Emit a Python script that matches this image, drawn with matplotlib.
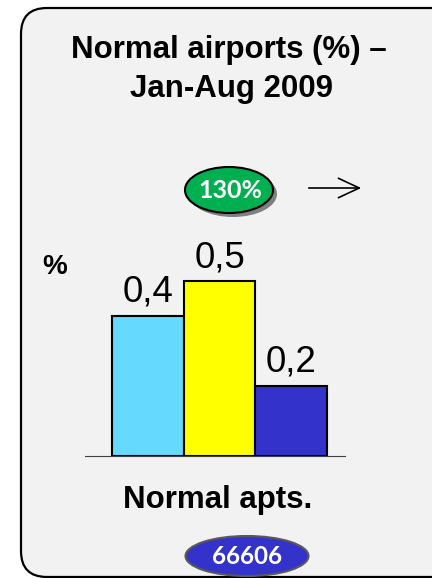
import matplotlib.pyplot as plt
from matplotlib.patches import FancyBboxPatch, Ellipse

# Data
categories = ['A', 'B', 'C']
values = [0.4, 0.5, 0.2]
labels = ['0,4', '0,5', '0,2']
colors = ['#66D9FF', '#FFFF00', '#3333CC']
title_lines = ['Normal airports (%) \u2013', 'Jan-Aug 2009']
growth_label = '130%'
count_label = '66606'
group_label = 'Normal apts.'

W, H = 432, 578
fig = plt.figure(figsize=(W / 100, H / 100), dpi=100)
fig.patch.set_facecolor('white')

# Overlay axes in pixel coordinates
bg = fig.add_axes([0, 0, 1, 1])
bg.set_xlim(0, W)
bg.set_ylim(H, 0)
bg.axis('off')

# Rounded panel
panel = FancyBboxPatch((21, 8), 440, 569, boxstyle='round,pad=0,rounding_size=26',
                       facecolor='#F2F2F2', edgecolor='black', lw=1.6)
bg.add_patch(panel)

bg.text(229, 58, title_lines[0], ha='center', va='baseline', fontsize=22.5,
        fontweight='bold', family='Liberation Sans')
bg.text(231, 97, title_lines[1], ha='center', va='baseline', fontsize=22.5,
        fontweight='bold', family='Liberation Sans')
bg.text(55, 274, '%', ha='center', va='baseline', fontsize=20, fontweight='bold',
        family='Liberation Sans')
bg.text(218, 508, group_label, ha='center', va='baseline', fontsize=22.5,
        fontweight='bold', family='Liberation Sans')

# Green growth bubble with shadow
bg.add_patch(Ellipse((233, 194), 88, 46, facecolor='#808080', edgecolor='none'))
bg.add_patch(Ellipse((229, 190), 88, 46, facecolor='#00B050', edgecolor='black', lw=1.5))
bg.text(230, 191, growth_label, ha='center', va='center', color='white', fontsize=18,
        fontweight='bold', family='Lato')
bg.annotate('', xy=(364, 188), xytext=(306, 188),
            arrowprops=dict(arrowstyle='->,head_length=1.5,head_width=0.7',
                            color='black', lw=1.2))

# Blue count bubble
bg.add_patch(Ellipse((247, 556), 123, 40, facecolor='#3333CC', edgecolor='#595959', lw=1.5))
bg.text(247, 556, count_label, ha='center', va='center', color='white', fontsize=17.5,
        fontweight='bold', family='Lato')

# Bar chart axes
ax = fig.add_axes([85 / W, (H - 456) / H, 260 / W, 350 / H])
ax.patch.set_alpha(0)
x = list(range(len(values)))
ax.bar(x, values, width=1.0, color=colors, edgecolor='black', lw=1.5)
for xi, v, lab in zip(x, values, labels):
    ax.text(xi, v + 0.04, lab, ha='center', va='baseline', fontsize=26.5,
            family='Liberation Sans')
ax.set_xlim(-0.88, 2.75)
ax.set_ylim(0, 1)
for s in ['top', 'right', 'left']:
    ax.spines[s].set_visible(False)
ax.spines['bottom'].set_color('#404040')
ax.set_xticks([])
ax.set_yticks([])

fig.savefig('out.png', dpi=100)
